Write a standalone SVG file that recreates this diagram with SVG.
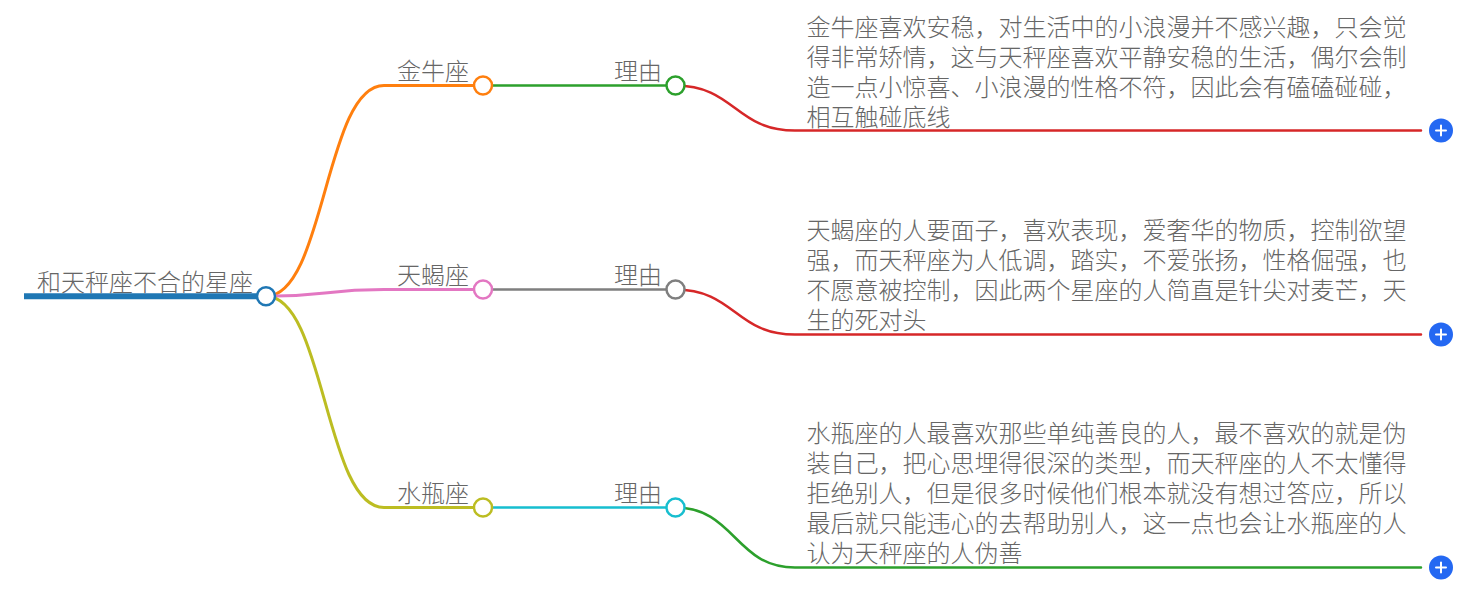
<svg xmlns="http://www.w3.org/2000/svg" width="1471" height="597" viewBox="0 0 1471 597">
<style>
text{font-family:"Noto Sans CJK SC","Noto Sans",sans-serif;font-size:24px;font-weight:300;fill:#666}
.l{fill:none;stroke-width:3;stroke-linecap:round}
.t{fill:none;stroke-width:2.5;stroke-linecap:round}
.c{fill:#fff;stroke-width:2.5}
.p{fill:#2468f2}
.x{stroke:#fff;stroke-width:2;stroke-linecap:round}
</style>
<rect width="1471" height="597" fill="#fff"/>
<g id="connectors">
<path d="M24 296.3H266" fill="none" stroke="#1f77b4" stroke-width="6"/>
<path class="l" stroke="#ff7f0e" d="M266 296.3C325 296.3 325 85.5 384 85.5H483"/>
<path class="l" stroke="#e377c2" d="M266 296.3C325 296.3 325 289.5 384 289.5H483"/>
<path class="l" stroke="#bcbd22" d="M266 296.3C325 296.3 325 507.5 384 507.5H483"/>
<path class="t" stroke="#2ca02c" d="M483 85.5H675"/>
<path class="t" stroke="#7f7f7f" d="M483 289.5H675"/>
<path class="t" stroke="#17becf" d="M483 507.5H675"/>
<path class="t" stroke="#d62728" d="M675 85.5C735 85.5 735 130.5 795 130.5H1421"/>
<path class="t" stroke="#d62728" d="M675 289.5C735 289.5 735 334.5 795 334.5H1421"/>
<path class="t" stroke="#2ca02c" d="M675 507.5C735 507.5 735 567.5 795 567.5H1421"/>
</g>
<g id="root"><text x="37" y="291">和天秤座不合的星座</text><circle class="c" cx="266" cy="296.3" r="9" stroke="#1f77b4"/></g>
<g id="n1"><text x="397" y="80">金牛座</text><circle class="c" cx="483" cy="85.5" r="9" stroke="#ff7f0e"/></g>
<g id="n2"><text x="397" y="284">天蝎座</text><circle class="c" cx="483" cy="289.5" r="9" stroke="#e377c2"/></g>
<g id="n3"><text x="397" y="502">水瓶座</text><circle class="c" cx="483" cy="507.5" r="9" stroke="#bcbd22"/></g>
<g id="r1"><text x="614" y="80">理由</text><circle class="c" cx="675.5" cy="85.5" r="9" stroke="#2ca02c"/></g>
<g id="r2"><text x="614" y="284">理由</text><circle class="c" cx="675.5" cy="289.5" r="9" stroke="#7f7f7f"/></g>
<g id="r3"><text x="614" y="502">理由</text><circle class="c" cx="675.5" cy="507.5" r="9" stroke="#17becf"/></g>
<g id="d1"><text x="806.5" y="36">金牛座喜欢安稳，对生活中的小浪漫并不感兴趣，只会觉</text><text x="806.5" y="66">得非常矫情，这与天秤座喜欢平静安稳的生活，偶尔会制</text><text x="806.5" y="96">造一点小惊喜、小浪漫的性格不符，因此会有磕磕碰碰，</text><text x="806.5" y="126">相互触碰底线</text></g>
<g id="d2"><text x="806.5" y="239">天蝎座的人要面子，喜欢表现，爱奢华的物质，控制欲望</text><text x="806.5" y="269">强，而天秤座为人低调，踏实，不爱张扬，性格倔强，也</text><text x="806.5" y="299">不愿意被控制，因此两个星座的人简直是针尖对麦芒，天</text><text x="806.5" y="329">生的死对头</text></g>
<g id="d3"><text x="806.5" y="442">水瓶座的人最喜欢那些单纯善良的人，最不喜欢的就是伪</text><text x="806.5" y="472">装自己，把心思埋得很深的类型，而天秤座的人不太懂得</text><text x="806.5" y="502">拒绝别人，但是很多时候他们根本就没有想过答应，所以</text><text x="806.5" y="532">最后就只能违心的去帮助别人，这一点也会让水瓶座的人</text><text x="806.5" y="562">认为天秤座的人伪善</text></g>
<g id="e1"><circle class="p" cx="1441" cy="130.5" r="12"/><path class="x" d="M1436 130.5H1446M1441 125.5V135.5"/></g>
<g id="e2"><circle class="p" cx="1441" cy="334.5" r="12"/><path class="x" d="M1436 334.5H1446M1441 329.5V339.5"/></g>
<g id="e3"><circle class="p" cx="1441" cy="567.5" r="12"/><path class="x" d="M1436 567.5H1446M1441 562.5V572.5"/></g>
</svg>
